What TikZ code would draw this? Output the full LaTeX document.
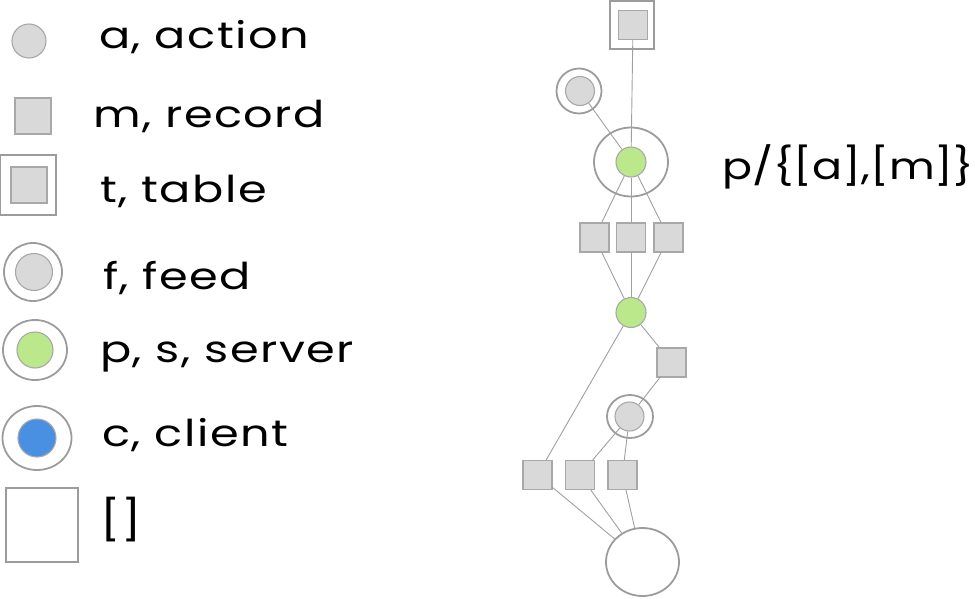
\documentclass[tikz,border=0pt]{standalone}
\usepackage{fontspec}
\setmainfont{Poppins}
\newfontfamily\lblfont{Poppins}[FakeStretch=1.25,LetterSpace=4]
\newfontfamily\lblfontb{Poppins}[FakeStretch=1.2]
\usetikzlibrary{shapes.geometric}
\begin{document}
\begin{tikzpicture}[x=1pt,y=-1pt,
  base/.style={draw=edgegray,line width=1.1pt,fill=nodegray,inner sep=0pt},
  rec/.style={base,rectangle,minimum size=29pt},
  act/.style={base,circle,minimum size=29pt},
  srv/.style={base,circle,minimum size=30pt,fill=srvgreen},
  ring/.style={draw=ringgray,line width=1.8pt,fill=none,inner sep=0pt},
  lbl/.style={anchor=base west,font=\lblfont\fontsize{37}{37}\selectfont,inner sep=0pt},
  edge/.style={draw=linegray,line width=0.9pt}]
\definecolor{nodegray}{HTML}{D9D9D9}
\definecolor{edgegray}{HTML}{A8A8A8}
\definecolor{ringgray}{HTML}{9C9C9C}
\definecolor{linegray}{HTML}{A0A0A0}
\definecolor{srvgreen}{HTML}{BAE88A}
\definecolor{cliblue}{HTML}{4A90E2}
\useasboundingbox (0,0) rectangle (975,598);
% legend
\node[base,circle,minimum size=34pt] (la) at (29,41) {};
\node[base,rectangle,minimum size=36pt] (lm) at (33,116) {};
\node[ring,rectangle,minimum width=56pt,minimum height=60pt] (lt) at (28,185) {};
\node[base,rectangle,minimum size=36pt] (lti) at (29,185) {};
\node[ring,circle,minimum size=58pt] (lf) at (33,272) {};
\node[base,circle,minimum size=37pt] (lfi) at (34,272) {};
\node[ring,ellipse,minimum width=64pt,minimum height=60pt] (lp) at (35,350) {};
\node[base,circle,minimum size=36pt,fill=srvgreen] (lpi) at (35,350) {};
\node[ring,ellipse,minimum width=69pt,minimum height=64pt] (lc) at (37,438) {};
\node[base,circle,minimum size=38pt,fill=cliblue] (lci) at (37,438) {};
\node[ring,rectangle,minimum width=72pt,minimum height=74pt,line width=1.6pt] (le) at (42,525) {};
\node[lbl] (ta) at (99,48) {a, action};
\node[lbl] (tm) at (93,127) {m, record};
\node[lbl] (tt) at (100,202) {t, table};
\node[lbl] (tf) at (103,289) {f, feed};
\node[lbl] (tp) at (100,362) {p, s, server};
\node[lbl] (tc) at (102,446) {c, client};
\node[font=\lblfontb\fontsize{40}{40}\selectfont,inner sep=0pt] (te) at (121,520) {[]};
\node[lbl,font=\lblfontb\fontsize{37}{37}\selectfont] (tq) at (722,179) {p/\{[a],[m]\}};
% graph
\node[ring,rectangle,minimum width=44pt,minimum height=48pt] (T) at (632,25) {};
\node[rec] (Ti) at (633,25) {};
\node[ring,circle,minimum size=45pt] (F1) at (579,91) {};
\node[act] (F1i) at (580,91) {};
\node[ring,ellipse,minimum width=74pt,minimum height=69pt] (P1) at (631,162) {};
\node[srv] (P1i) at (631,162) {};
\node[rec] (R1) at (594.5,237.5) {};
\node[rec] (R2) at (631,237.5) {};
\node[rec] (R3) at (668.5,237.5) {};
\node[srv] (P2) at (631,312.5) {};
\node[rec] (R4) at (671.5,362.5) {};
\node[ring,ellipse,minimum width=46pt,minimum height=43pt] (F2) at (630,416.5) {};
\node[act] (F2i) at (629.5,416.5) {};
\node[rec] (R5) at (537.5,475) {};
\node[rec] (R6) at (580,475) {};
\node[rec] (R7) at (622.5,475) {};
\node[ring,ellipse,minimum width=73pt,minimum height=68pt] (B) at (642.5,562) {};
% edges
\path[edge] (Ti) -- (P1i);
\path[edge] (F1i) -- (P1i);
\path[edge] (P1i) -- (R1);
\path[edge] (P1i) -- (R2);
\path[edge] (P1i) -- (R3);
\path[edge] (R1) -- (P2);
\path[edge] (R2) -- (P2);
\path[edge] (R3) -- (P2);
\path[edge] (P2) -- (R4);
\path[edge] (R4) -- (F2i);
\path[edge] (P2) -- (R5);
\path[edge] (F2i) -- (R6);
\path[edge] (F2i) -- (R7);
\path[edge] (R5) -- (B);
\path[edge] (R6) -- (B);
\path[edge] (R7) -- (B);
\end{tikzpicture}
\end{document}
